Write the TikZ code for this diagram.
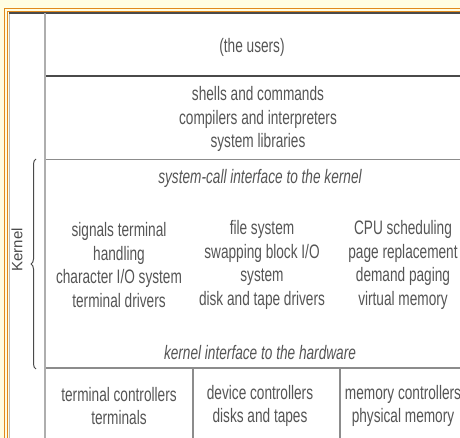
\documentclass[tikz,border=0pt]{standalone}
\usepackage{fontspec}
\setmainfont{Liberation Sans}[FakeStretch=0.7]
\newfontfamily\kernelfont{Liberation Sans}
\usetikzlibrary{decorations.pathreplacing}
\definecolor{paper}{HTML}{FFFDE3}
\definecolor{frame}{HTML}{E0891C}
\definecolor{ink}{HTML}{555555}
\definecolor{rule}{HTML}{8C8C8C}
\definecolor{darkrule}{HTML}{4A4A4A}
\begin{document}
\begin{tikzpicture}[x=1pt,y=-1pt, line join=round,
	txt/.style={text=ink, align=center, inner sep=0pt, font=\fontsize{19.5}{23.5}\selectfont},
	itxt/.style={txt, font=\fontsize{19.5}{23.5}\selectfont\itshape}]
	\useasboundingbox (0,0) rectangle (460,438);
	\clip (0,0) rectangle (460,438);
	\fill[paper] (0,0) rectangle (460,438);
	% orange double frame
	\draw[frame, line width=1.2] (4.5,438) -- (4.5,8.5) -- (460,8.5);
	\draw[frame, line width=1.6] (7.5,438) -- (7.5,11.5) -- (460,11.5);
	\filldraw[white, draw=rule!60, line width=1] (9.5,13.5) rectangle (480,450);
	% layers
	\draw[darkrule, line width=2] (9,13.5) -- (460,13.5);
	\draw[darkrule, line width=2.5] (45,76) -- (460,76);
	\draw[rule, line width=1.5] (45,159.5) -- (460,159.5) (45,368) -- (460,368);
	\draw[rule!70, line width=1.5] (45,13.5) -- (45,438);
	\draw[rule, line width=1.5] (193,368) -- (193,438) (340,368) -- (340,438);
	% brace
	\draw[darkrule, line width=1, decorate, decoration={brace, amplitude=5pt}] (36,369) -- (36,159);
	\node[rotate=90, text=darkrule, font=\kernelfont\fontsize{15}{17}\selectfont] (kernel) at (17,250) {Kernel};
	% texts
	\node[txt] (users) at (252,47) {(the users)};
	\node[txt] (shells) at (258,119) {shells and commands\\compilers and interpreters\\system libraries};
	\node[itxt] (syscall) at (260,178) {system-call interface to the kernel};
	\node[txt] (signals) at (119,265) {signals terminal\\handling\\character I/O system\\terminal drivers};
	\node[txt] (files) at (262,265) {file system\\swapping block I/O\\system\\disk and tape drivers};
	\node[txt] (cpu) at (403,265) {CPU scheduling\\page replacement\\demand paging\\virtual memory};
	\node[itxt] (hwif) at (260,353) {kernel interface to the hardware};
	\node[txt] (termctl) at (119,406) {terminal controllers\\terminals};
	\node[txt] (devctl) at (260,406) {device controllers\\disks and tapes};
	\node[txt] (memctl) at (403,406) {memory controllers\\physical memory};
\end{tikzpicture}
\end{document}
